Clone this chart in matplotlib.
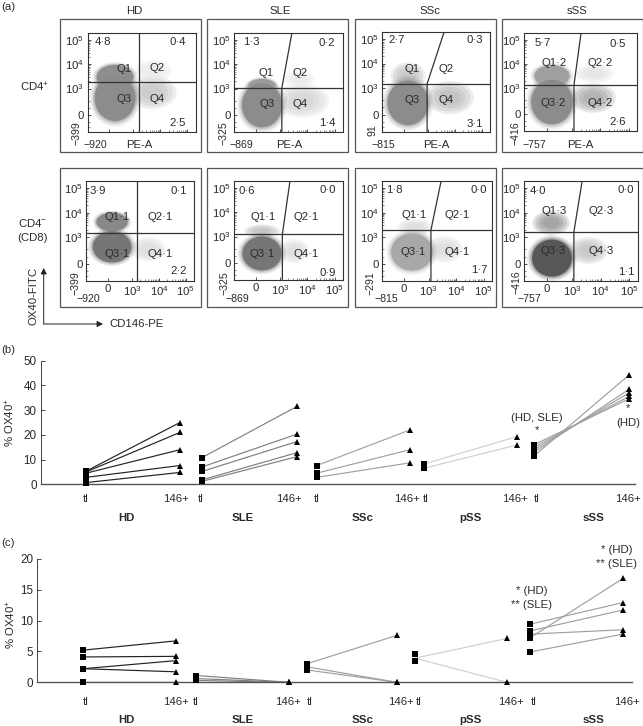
import matplotlib
matplotlib.use("Agg")
import matplotlib.pyplot as plt
import numpy as np
from matplotlib.patches import Ellipse, Rectangle

W, H = 643, 726
plt.rcParams["font.family"] = ["Liberation Sans", "DejaVu Sans"]
plt.rcParams["mathtext.fontset"] = "custom"
plt.rcParams["mathtext.rm"] = "Liberation Sans"
plt.rcParams["mathtext.default"] = "regular"
TXT = "#2a2a2a"
FS = 8.2

DISEASES = ["HD", "SLE", "SSc", "sSS"]
LOW_X = [["\u2212920", "\u2212869", "\u2212815", "\u2212757"]] * 2
LOW_Y = [["\u2212399", "\u2212325", "91", "\u2212416"],
         ["\u2212399", "\u2212325", "\u2212291", "\u2212416"]]

# inner plot boxes, px (left, top, right, bottom)
BOXES = [
    [(87.5, 33, 195.5, 132), (234, 33, 342.7, 132), (382, 32, 490, 131.5), (524, 33, 637, 130.5)],
    [(86.5, 181, 194, 281), (234, 181, 342.7, 280), (382, 181, 492, 281), (524, 181, 638, 281)],
]
OUTER_X = [(60, 201), (207, 348), (355, 496), (502, 642.5)]
OUTER_Y = [(19, 152), (168, 307)]

# gates in decade units: vertical x, x of gate top, horizontal y
GATE_V = [[3.21, 3.06, 2.97, 3.07], [3.18, 3.08, 3.08, 3.05]]
GATE_TOP = [[3.21, 3.43, 3.60, 3.32], [3.18, 3.36, 3.45, 3.34]]
GATE_H = [[3.27, 3.02, 3.16, 3.13], [3.17, 3.10, 3.29, 3.21]]

# dense cell clouds in decade units: x, y, half width, half height, grey
CORES = [
    [
        [(2.32, 3.48, 0.68, 0.50, "#8e8e8e"), (2.32, 2.60, 0.76, 0.95, "#8c8c8c")],
        [(2.33, 3.10, 0.50, 0.30, "#9c9c9c"), (2.33, 2.31, 0.74, 0.92, "#8c8c8c")],
        [(2.26, 2.38, 0.76, 0.92, "#8c8c8c")],
        [(2.29, 3.50, 0.62, 0.44, "#a0a0a0"), (2.29, 2.40, 0.74, 0.94, "#8c8c8c")],
    ],
    [
        [(2.25, 3.62, 0.58, 0.38, "#888888"), (2.25, 2.60, 0.72, 0.64, "#767676")],
        [(2.33, 2.30, 0.72, 0.70, "#767676")],
        [(2.39, 2.39, 0.76, 0.76, "#a8a8a8")],
        [(2.28, 2.14, 0.70, 0.76, "#585858")],
    ],
]
# sparse speckled regions, same units
SPARSE = [
    [
        [(3.70, 2.85, 0.90, 0.70, "#c0c0c0"), (3.75, 3.75, 0.70, 0.45, "#e8e8e8")],
        [(3.80, 2.50, 1.00, 0.70, "#d0d0d0"), (3.70, 3.40, 0.60, 0.35, "#e8e8e8")],
        [(2.26, 3.50, 0.65, 0.55, "#bcbcbc"), (3.80, 2.60, 0.90, 0.68, "#b4b4b4")],
        [(3.75, 2.57, 0.80, 0.62, "#a0a0a0"), (3.80, 3.60, 0.70, 0.40, "#e0e0e0")],
    ],
    [
        [(3.60, 2.50, 0.65, 0.50, "#d8d8d8")],
        [(2.33, 3.22, 0.65, 0.28, "#b8b8b8"), (3.50, 2.40, 0.55, 0.50, "#d8d8d8")],
        [(2.50, 3.40, 0.65, 0.35, "#d8d8d8"), (3.60, 2.50, 0.65, 0.55, "#d8d8d8")],
        [(2.25, 3.58, 0.65, 0.50, "#8c8c8c"), (3.55, 2.45, 0.70, 0.55, "#bcbcbc")],
    ],
]

Q_NAMES = [
    [["Q1", "Q2", "Q3", "Q4"], ["Q1", "Q2", "Q3", "Q4"], ["Q1", "Q2", "Q3", "Q4"], ["Q1\u00b72", "Q2\u00b72", "Q3\u00b72", "Q4\u00b72"]],
    [["Q1\u00b71", "Q2\u00b71", "Q3\u00b71", "Q4\u00b71"], ["Q1\u00b71", "Q2\u00b71", "Q3\u00b71", "Q4\u00b71"],
     ["Q1\u00b71", "Q2\u00b71", "Q3\u00b71", "Q4\u00b71"], ["Q1\u00b73", "Q2\u00b73", "Q3\u00b73", "Q4\u00b73"]],
]
Q_XY = [
    [[(124, 69), (157, 68), (124, 99), (157, 99)], [(266, 73), (300, 73), (267, 104), (300, 104)],
     [(412, 69), (446, 69), (412, 100), (446, 100)], [(554, 63), (600, 63), (553, 103), (600, 103)]],
    [[(117, 217), (160, 217), (117, 254), (160, 254)], [(263, 217), (306, 217), (262, 254), (306, 254)],
     [(414, 215), (457, 215), (413, 252), (457, 252)], [(554, 211), (601, 211), (553, 251), (601, 251)]],
]
PCT = [
    [["4\u00b78", "0\u00b74", "2\u00b75"], ["1\u00b73", "0\u00b72", "1\u00b74"], ["2\u00b77", "0\u00b73", "3\u00b71"], ["5\u00b77", "0\u00b75", "2\u00b76"]],
    [["3\u00b79", "0\u00b71", "2\u00b72"], ["0\u00b76", "0\u00b70", "0\u00b79"], ["1\u00b78", "0\u00b70", "1\u00b77"], ["4\u00b70", "0\u00b70", "1\u00b71"]],
]
PCT_XY = [
    [[(103, 42), (178, 42), (178, 123)], [(251, 42), (327, 43), (327, 123)],
     [(397, 40), (475, 40), (475, 124)], [(543, 43), (618, 44), (618, 122)]],
    [[(98, 191), (179, 191), (179, 271)], [(247, 191), (328, 190), (328, 273)],
     [(394, 190), (479, 190), (479, 270)], [(538, 191), (626, 190), (626, 272)]],
]
LOW_X_XY = [[(95, 145), (241, 145), (383, 145), (534, 145)], [(88, 299), (237, 299), (386, 299), (529, 299)]]
LOW_Y_XY = [[(76, 133), (223, 133), (372, 130), (515, 133)], [(75, 283), (224, 283), (370, 283), (516, 282)]]
PE_X = [139, 289, 436, 580]

# panel (b)
B_TL = [[5.3, 5.0, 4.5, 2.8, 0.7], [10.8, 7.0, 5.2, 1.8, 1.2], [7.6, 4.5, 2.8], [8.2, 6.5], [11.5, 13.0, 14.0, 15.0, 16.0]]
B_146 = [[25.0, 21.0, 14.0, 7.6, 4.8], [31.5, 20.3, 17.3, 12.8, 11.2], [22.0, 14.0, 8.7], [19.3, 15.9], [44.2, 38.4, 37.0, 35.6, 34.6]]
B_X_TL = [86, 202, 316.7, 424, 534]
B_X_146 = [180, 297, 410, 517, 629]
B_LAB_X = [86, 176, 200.7, 289, 316.7, 407, 426, 515, 537, 628]

# panel (c)
C_TL = [[5.2, 4.1, 2.2, 2.2, 0.1], [1.1, 0.6, 0.3], [3.0, 2.5, 2.0], [3.9, 3.9], [9.4, 8.3, 7.2, 7.8, 4.9]]
C_146 = [[6.7, 4.2, 3.5, 1.7, 0.1], [0.0, 0.0, 0.0], [7.6, 0.0, 0.0], [7.1, 0.0], [12.9, 11.7, 16.8, 8.5, 7.8]]
C_SQ = [[], [], [], [4.5, 3.5], []]
C_X_TL = [83, 196, 307, 415, 530]
C_X_146 = [175.7, 289, 397, 507, 623]
C_LAB_X = [86, 176, 196, 288, 310, 400.7, 419, 511, 534, 627]

LAB_NAMES = ["tl", "146+"] * 5
GROUPS = ["HD", "SLE", "SSc", "pSS", "sSS"]
GROUP_X = [126, 242.7, 362.7, 470.7, 594]
LINE_COLS = ["#222222", "#808080", "#a0a0a0", "#d0d0d0", "#a0a0a0"]


def px_axes(fig, l, t, r, b):
    return fig.add_axes([l / W, 1 - b / H, (r - l) / W, (b - t) / H])


def px_text(fig, x, y, s, **kw):
    kw.setdefault("fontsize", FS)
    kw.setdefault("color", TXT)
    kw.setdefault("ha", "center")
    kw.setdefault("va", "center")
    fig.text(x / W, 1 - y / H, s, **kw)


def soft(ax, cx, cy, rx, ry, col, levels, z):
    for scale, alpha in levels:
        ax.add_patch(Ellipse((cx, cy), 2 * rx * scale, 2 * ry * scale, fc=col, ec="none", alpha=alpha, zorder=z))


def flow_panel(fig, row, col):
    ax = px_axes(fig, *BOXES[row][col])
    ax.set_xlim(1.3, 5.3)
    ax.set_ylim(1.2, 5.3)
    for c in SPARSE[row][col]:
        soft(ax, *c, [(1.0, 0.25), (0.85, 0.3), (0.65, 0.35), (0.45, 0.35)], 1)
    # halos first so that they do not stack on the cores
    for c in CORES[row][col]:
        soft(ax, *c, [(1.24, 0.12), (1.16, 0.18), (1.08, 0.35)], 1.5)
    for c in CORES[row][col]:
        soft(ax, *c, [(1.0, 1.0)], 2)
    v, top, h = GATE_V[row][col], GATE_TOP[row][col], GATE_H[row][col]
    ax.plot([1.3, 5.3], [h, h], color="#333333", lw=0.9, zorder=3)
    ax.plot([v, v, top], [1.2, h, 5.3], color="#333333", lw=0.9, zorder=3)

    minor = [d + np.log10(m) for d in (3, 4) for m in range(2, 10)]
    ax.set_xticks(minor, minor=True)
    ax.set_yticks(minor + [1.4, 1.6, 2.2, 2.5], minor=True)
    ax.set_yticks([1.9, 3, 4, 5], ["0", "$10^3$", "$10^4$", "$10^5$"])
    if row == 1:
        ax.set_xticks([2.1, 3, 4, 5], ["0", "$10^3$", "$10^4$", "$10^5$"])
    else:
        ax.set_xticks([2.1, 3, 4, 5], ["", "", "", ""])
    ax.tick_params(which="major", direction="in", length=2.5, width=0.6, color="#333333",
                   labelsize=FS, labelcolor=TXT, pad=2.5)
    ax.tick_params(which="minor", direction="in", length=1.3, width=0.4, color="#333333")
    for s in ax.spines.values():
        s.set_linewidth(0.8)
        s.set_color("#333333")

    for name, (x, y) in zip(Q_NAMES[row][col], Q_XY[row][col]):
        px_text(fig, x, y, name, zorder=5)
    for val, (x, y) in zip(PCT[row][col], PCT_XY[row][col]):
        px_text(fig, x, y, val, zorder=5)
    x, y = LOW_X_XY[row][col]
    px_text(fig, x, y, LOW_X[row][col], fontsize=7.6)
    x, y = LOW_Y_XY[row][col]
    px_text(fig, x, y, LOW_Y[row][col], rotation=90, fontsize=7.6)
    if row == 0:
        px_text(fig, PE_X[col], 145, "PE-A")


def pair_panel(fig, box, ymax, yticks, tl, plus, x_tl, x_146, lab_x, lab_y, group_y, extra_sq=None):
    ax = px_axes(fig, *box)
    ax.set_xlim(box[0], box[2])
    ax.set_ylim(0, ymax)
    for g in range(len(GROUPS)):
        for a, b in zip(tl[g], plus[g]):
            ax.plot([x_tl[g], x_146[g]], [a, b], color=LINE_COLS[g], lw=0.85, zorder=2)
        sq = extra_sq[g] if extra_sq and extra_sq[g] else tl[g]
        ax.plot([x_tl[g]] * len(sq), sq, "s", color="black", ms=4.0, mew=0, clip_on=False, zorder=3)
        ax.plot([x_146[g]] * len(plus[g]), plus[g], "^", color="black", ms=5.0, mew=0, clip_on=False, zorder=3)
    ax.spines[["top", "right"]].set_visible(False)
    ax.spines["left"].set_color("#444444")
    ax.spines["bottom"].set_color("#555555")
    ax.spines["bottom"].set_linewidth(1.0)
    ax.spines["left"].set_linewidth(0.7)
    ax.set_xticks([])
    ax.set_yticks(yticks)
    ax.tick_params(axis="y", direction="in", length=3, width=0.7, color="#444444",
                   labelsize=FS + 0.2, labelcolor=TXT, pad=3)
    ax.patch.set_alpha(0)
    for x, s in zip(lab_x, LAB_NAMES):
        px_text(fig, x, lab_y, s)
    for x, s in zip(GROUP_X, GROUPS):
        px_text(fig, x, group_y, s, fontweight="bold")
    return ax


def main():
    fig = plt.figure(figsize=(W / 100, H / 100), dpi=100)

    for r, (t, b) in enumerate(OUTER_Y):
        for (l, rr) in OUTER_X:
            fig.add_artist(Rectangle((l / W, 1 - b / H), (rr - l) / W, (b - t) / H, fill=False,
                                     ec="#555555", lw=0.9, transform=fig.transFigure))
    for r in range(2):
        for c in range(4):
            flow_panel(fig, r, c)

    for name, x in zip(DISEASES, [134, 280, 430, 577]):
        px_text(fig, x, 11, name)
    px_text(fig, 35, 87, "CD4$^{+}$")
    px_text(fig, 33, 223, "CD4$^{\u2212}$")
    px_text(fig, 33, 238, "(CD8)")
    px_text(fig, 1, 7, "(a)", ha="left")
    px_text(fig, 1, 350, "(b)", ha="left")
    px_text(fig, 1, 543, "(c)", ha="left")

    # OX40 / CD146 axes key
    arrow = dict(arrowstyle="-|>,head_width=0.18,head_length=0.35", color="#222222", lw=0.7, shrinkA=0, shrinkB=0)
    for end in [(43.7, 268), (103, 324)]:
        fig.axes[0].annotate("", xy=(end[0] / W, 1 - end[1] / H), xytext=(43.7 / W, 1 - 324 / H),
                             xycoords="figure fraction", textcoords="figure fraction",
                             arrowprops=arrow, annotation_clip=False)
    px_text(fig, 33.7, 296, "OX40-FITC", rotation=90)
    px_text(fig, 109, 324, "CD146-PE", ha="left")

    pair_panel(fig, (40.7, 360.7, 635, 484.3), 50, [0, 10, 20, 30, 40, 50], B_TL, B_146,
               B_X_TL, B_X_146, B_LAB_X, 499, 517.7)
    pair_panel(fig, (37.3, 558.7, 632, 682.3), 20, [0, 5, 10, 15, 20], C_TL, C_146,
               C_X_TL, C_X_146, C_LAB_X, 701.7, 720, extra_sq=C_SQ)

    px_text(fig, 10.7, 422.7, "% OX40$^{+}$", rotation=90)
    px_text(fig, 11, 625, "% OX40$^{+}$", rotation=90)

    px_text(fig, 536.7, 418, "(HD, SLE)")
    px_text(fig, 537, 430, "*")
    px_text(fig, 628, 408, "*")
    px_text(fig, 628, 423, "(HD)")
    px_text(fig, 531.7, 591, "* (HD)")
    px_text(fig, 531.7, 605, "** (SLE)")
    px_text(fig, 616.7, 550, "* (HD)")
    px_text(fig, 616.7, 564, "** (SLE)")

    fig.savefig("out.png", dpi=100)
    plt.close(fig)


if __name__ == "__main__":
    main()
